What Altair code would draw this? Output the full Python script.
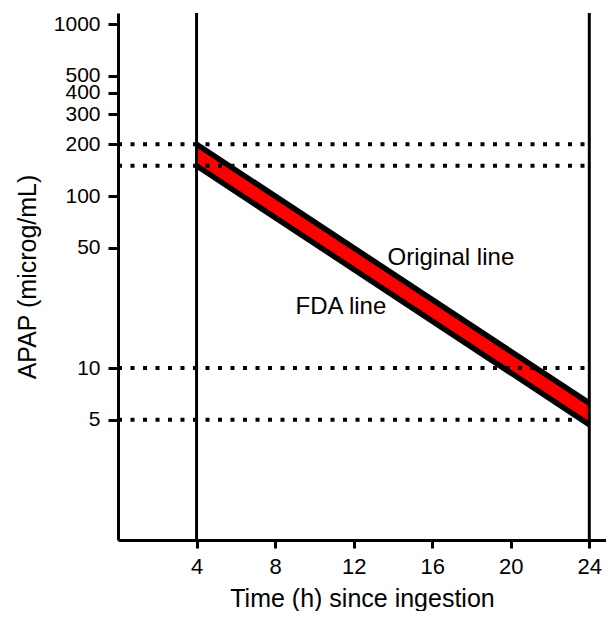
import altair as alt
import pandas as pd

# Data
times = [4, 24]
original_line = [200, 6.25]
fda_line = [150, 4.6875]
ref_levels = [200, 150, 10, 5]
vert_times = [4, 24]
y_ticks = [5, 10, 50, 100, 200, 300, 400, 500, 1000]
x_ticks = [4, 8, 12, 16, 20, 24]
label_text = ["Original line", "FDA line"]
label_x = [16.95, 11.35]
label_y = [43.6, 22.6]

FONT = "Liberation Sans"

band = pd.DataFrame({"t": times, "orig": original_line, "fda": fda_line})
levels = pd.DataFrame({"lvl": ref_levels, "x0": [0] * len(ref_levels), "x1": [24] * len(ref_levels)})
verts = pd.DataFrame({"t": vert_times})
labels = pd.DataFrame({"txt": label_text, "x": label_x, "y": label_y})

xscale = alt.Scale(domain=[0, 24.85], nice=False, zero=False)
yscale = alt.Scale(type="log", domain=[1, 1160], nice=False, zero=False)

common = dict(grid=False, domainColor="black", domainWidth=3, tickColor="black", tickWidth=3,
              labelFont=FONT, labelColor="black", labelOverlap=False,
              titleFont=FONT, titleFontSize=25, titleColor="black", titleFontWeight="normal")

xaxis = alt.Axis(values=x_ticks, format="d", title="Time (h) since ingestion",
                 tickSize=8, labelPadding=8, labelFontSize=22, titlePadding=9, **common)
yaxis = alt.Axis(values=y_ticks, format="d", title="APAP (microg/mL)",
                 tickSize=10, labelPadding=8, labelFontSize=21, titlePadding=13, **common)

area = alt.Chart(band).mark_area(color="#ff0000", opacity=1).encode(
    x=alt.X("t:Q", scale=xscale, axis=xaxis),
    y=alt.Y("orig:Q", scale=yscale, axis=yaxis),
    y2="fda:Q",
)

line_orig = alt.Chart(band).mark_line(color="black", strokeWidth=5.5, strokeCap="butt").encode(
    x=alt.X("t:Q", scale=xscale), y=alt.Y("orig:Q", scale=yscale)
)
line_fda = alt.Chart(band).mark_line(color="black", strokeWidth=5.5, strokeCap="butt").encode(
    x=alt.X("t:Q", scale=xscale), y=alt.Y("fda:Q", scale=yscale)
)

vlines = alt.Chart(verts).mark_rule(color="black", strokeWidth=3).encode(
    x=alt.X("t:Q", scale=xscale)
)

dotted = alt.Chart(levels).mark_rule(color="black", strokeWidth=4, strokeDash=[4, 8.5],
                                     strokeCap="butt").encode(
    x=alt.X("x0:Q", scale=xscale), x2="x1:Q", y=alt.Y("lvl:Q", scale=yscale)
)

texts = alt.Chart(labels).mark_text(font=FONT, fontSize=24, color="black",
                                    align="center", baseline="middle").encode(
    x=alt.X("x:Q", scale=xscale), y=alt.Y("y:Q", scale=yscale), text="txt:N"
)

chart = alt.layer(area, line_orig, line_fda, vlines, dotted, texts).properties(
    width=488, height=527,
    padding={"left": 110, "top": 5, "right": 0, "bottom": 71},
    autosize=alt.AutoSizeParams(type="none"),
).configure_view(stroke=None)

chart.save("out.html", embed_options={"renderer": "svg", "actions": False})
